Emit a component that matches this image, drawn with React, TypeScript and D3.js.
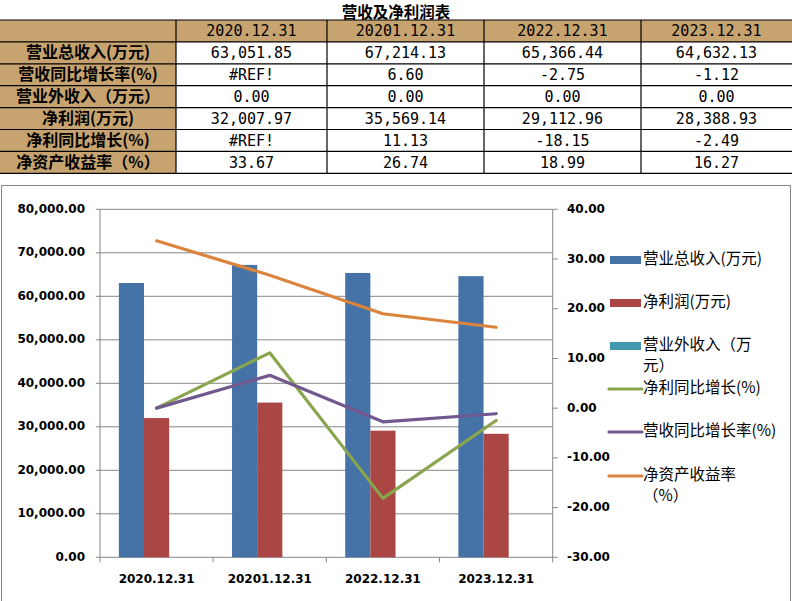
import React from 'react';
import { scaleBand, scaleLinear, line, range } from 'd3';

const title = '营收及净利润表';
const periods = ['2020.12.31', '20201.12.31', '2022.12.31', '2023.12.31'];
const rowLabels = ['营业总收入(万元)', '营收同比增长率(%)', '营业外收入（万元）', '净利润(万元)', '净利同比增长(%)', '净资产收益率（%）'];
const tableCells = [
    ['63,051.85', '67,214.13', '65,366.44', '64,632.13'],
    ['#REF!', '6.60', '-2.75', '-1.12'],
    ['0.00', '0.00', '0.00', '0.00'],
    ['32,007.97', '35,569.14', '29,112.96', '28,388.93'],
    ['#REF!', '11.13', '-18.15', '-2.49'],
    ['33.67', '26.74', '18.99', '16.27'],
];

// bars (left axis)
const revenue = [63051.85, 67214.13, 65366.44, 64632.13];
const netProfit = [32007.97, 35569.14, 29112.96, 28388.93];
const otherIncome = [0, 0, 0, 0];
// lines (right axis), #REF! plotted as 0
const profitGrowth = [0, 11.13, -18.15, -2.49];
const revenueGrowth = [0, 6.6, -2.75, -1.12];
const roe = [33.67, 26.74, 18.99, 16.27];

const leftTicks = range(0, 80001, 10000);
const rightTicks = range(-30, 41, 10);

const barSeries = [
    { name: '营业总收入(万元)', values: revenue, color: '#4572A7' },
    { name: '净利润(万元)', values: netProfit, color: '#AA4643' },
    { name: '营业外收入（万元）', values: otherIncome, color: '#4198AF' },
];
const lineSeries = [
    { name: '净利同比增长(%)', values: profitGrowth, color: '#89A54E' },
    { name: '营收同比增长率(%)', values: revenueGrowth, color: '#71588F' },
    { name: '净资产收益率（%）', values: roe, color: '#DB843D' },
];

const legendItems = [
    { lines: ['营业总收入(万元)'], color: '#4572A7', kind: 'rect', y: 260 },
    { lines: ['净利润(万元)'], color: '#AA4643', kind: 'rect', y: 303 },
    { lines: ['营业外收入（万', '元）'], color: '#4198AF', kind: 'rect', y: 346 },
    { lines: ['净利同比增长(%)'], color: '#89A54E', kind: 'line', y: 389 },
    { lines: ['营收同比增长率(%)'], color: '#71588F', kind: 'line', y: 432 },
    { lines: ['净资产收益率', '（%）'], color: '#DB843D', kind: 'line', y: 476 },
];

const W = 792;
const H = 601;
const colEdges = [0, 176, 327, 484, 641, 792];
const tableTop = 20;
const rowH = 21.9;
const tan = '#C6A36F';

const plot = { left: 100, right: 552.7, top: 209.3, bottom: 557.3 };

const cjk = '"Noto Sans CJK SC", "Noto Sans", sans-serif';
const mono = '"DejaVu Sans Mono", "Liberation Mono", monospace';
const axisFont = '"DejaVu Sans", Verdana, sans-serif';

export default function App() {
    const x0 = scaleBand<string>().domain(periods).range([plot.left, plot.right]);
    const bw = x0.bandwidth();
    const x1 = scaleBand<string>()
        .domain(barSeries.map(s => s.name))
        .range([bw * 0.75 / 4.5, bw - bw * 0.75 / 4.5]);
    const yL = scaleLinear().domain([0, 80000]).range([plot.bottom, plot.top]);
    const yR = scaleLinear().domain([-30, 40]).range([plot.bottom, plot.top]);

    const lineGen = line<number>()
        .x((_, i) => (x0(periods[i]) as number) + bw / 2)
        .y(d => yR(d));

    const fmt = (v: number) =>
        v.toLocaleString('en-US', { minimumFractionDigits: 2, maximumFractionDigits: 2 });

    const nRows = rowLabels.length + 1;

    return (
        <svg width={W} height={H} style={{ position: 'absolute', left: 0, top: 0, background: '#fff' }}>
            {/* title */}
            <text x={396} y={18} textAnchor="middle"
                fontFamily={cjk} fontSize={15.5} fontWeight={700} fill="#000">{title}</text>

            {/* table */}
            <g>
                <rect x={0} y={tableTop} width={W} height={rowH} fill={tan} />
                <rect x={0} y={tableTop} width={colEdges[1]} height={rowH * nRows} fill={tan} />
                {range(nRows + 1).map(r => (
                    <line key={'r' + r} x1={0} x2={W} y1={tableTop + r * rowH} y2={tableTop + r * rowH}
                        stroke="#000" strokeWidth={1.2} />
                ))}
                {colEdges.slice(1, -1).map((cx, i) => (
                    <line key={'c' + i} x1={cx} x2={cx} y1={tableTop} y2={tableTop + nRows * rowH}
                        stroke="#000" strokeWidth={1.2} />
                ))}
                {periods.map((p, j) => (
                    <text key={'h' + j} x={(colEdges[j + 1] + colEdges[j + 2]) / 2} y={tableTop + rowH / 2 + 1}
                        textAnchor="middle" dominantBaseline="middle" fontFamily={mono} fontSize={15} fill="#000">{p}</text>
                ))}
                {rowLabels.map((lab, i) => (
                    <text key={'l' + i} x={colEdges[1] / 2} y={tableTop + (i + 1.5) * rowH + 1}
                        textAnchor="middle" dominantBaseline="middle" fontFamily={cjk} fontSize={16} fontWeight={700} fill="#000">{lab}</text>
                ))}
                {tableCells.map((row, i) => row.map((c, j) => (
                    <text key={i + '-' + j} x={(colEdges[j + 1] + colEdges[j + 2]) / 2} y={tableTop + (i + 1.5) * rowH + 1}
                        textAnchor="middle" dominantBaseline="middle" fontFamily={mono} fontSize={15} fill="#000">{c}</text>
                )))}
            </g>

            {/* chart frame */}
            <rect x={1.5} y={185.5} width={789} height={430} fill="#fff" stroke="#868686" strokeWidth={1} />

            {/* gridlines */}
            {leftTicks.map(t => (
                <line key={'g' + t} x1={plot.left - 4} x2={plot.right} y1={yL(t)} y2={yL(t)} stroke="#868686" strokeWidth={1} />
            ))}
            <line x1={plot.left} x2={plot.left} y1={plot.top} y2={plot.bottom} stroke="#868686" />
            <line x1={plot.right} x2={plot.right} y1={plot.top} y2={plot.bottom} stroke="#868686" />
            {rightTicks.map(t => (
                <line key={'rt' + t} x1={plot.right} x2={plot.right + 5} y1={yR(t)} y2={yR(t)} stroke="#868686" />
            ))}
            {range(periods.length + 1).map(i => (
                <line key={'ct' + i} x1={plot.left + i * bw} x2={plot.left + i * bw} y1={plot.bottom} y2={plot.bottom + 5} stroke="#868686" />
            ))}

            {/* bars */}
            {barSeries.map(s => (
                <g key={s.name}>
                    {s.values.map((v, i) => (
                        <rect key={i}
                            x={(x0(periods[i]) as number) + (x1(s.name) as number)}
                            y={yL(v)}
                            width={x1.bandwidth()}
                            height={plot.bottom - yL(v)}
                            fill={s.color} />
                    ))}
                </g>
            ))}

            {/* lines */}
            {lineSeries.map(s => (
                <path key={s.name} d={lineGen(s.values) || ''} fill="none" stroke={s.color}
                    strokeWidth={3.2} strokeLinejoin="round" strokeLinecap="round" />
            ))}

            {/* axis labels */}
            {leftTicks.map(t => (
                <text key={'lt' + t} x={85} y={yL(t)} textAnchor="end" dominantBaseline="middle"
                    fontFamily={axisFont} fontWeight={700} fontSize={12} fill="#000">{fmt(t)}</text>
            ))}
            {rightTicks.map(t => (
                <text key={'rl' + t} x={567} y={yR(t)} textAnchor="start" dominantBaseline="middle"
                    fontFamily={axisFont} fontWeight={700} fontSize={12} fill="#000">{fmt(t)}</text>
            ))}
            {periods.map(p => (
                <text key={'cl' + p} x={(x0(p) as number) + bw / 2} y={579} textAnchor="middle" dominantBaseline="middle"
                    fontFamily={axisFont} fontWeight={700} fontSize={12} fill="#000">{p}</text>
            ))}

            {/* legend */}
            {legendItems.map(it => (
                <g key={it.lines[0]}>
                    {it.kind === 'rect'
                        ? <rect x={610} y={it.y - 4} width={31} height={8} fill={it.color} />
                        : <line x1={609} x2={642} y1={it.y} y2={it.y} stroke={it.color} strokeWidth={3.2} strokeLinecap="round" />}
                    {it.lines.map((ln, k) => (
                        <text key={k} x={643} y={it.y + k * 21} dominantBaseline="middle"
                            fontFamily={cjk} fontSize={15.5} fill="#000">{ln}</text>
                    ))}
                </g>
            ))}
        </svg>
    );
}
